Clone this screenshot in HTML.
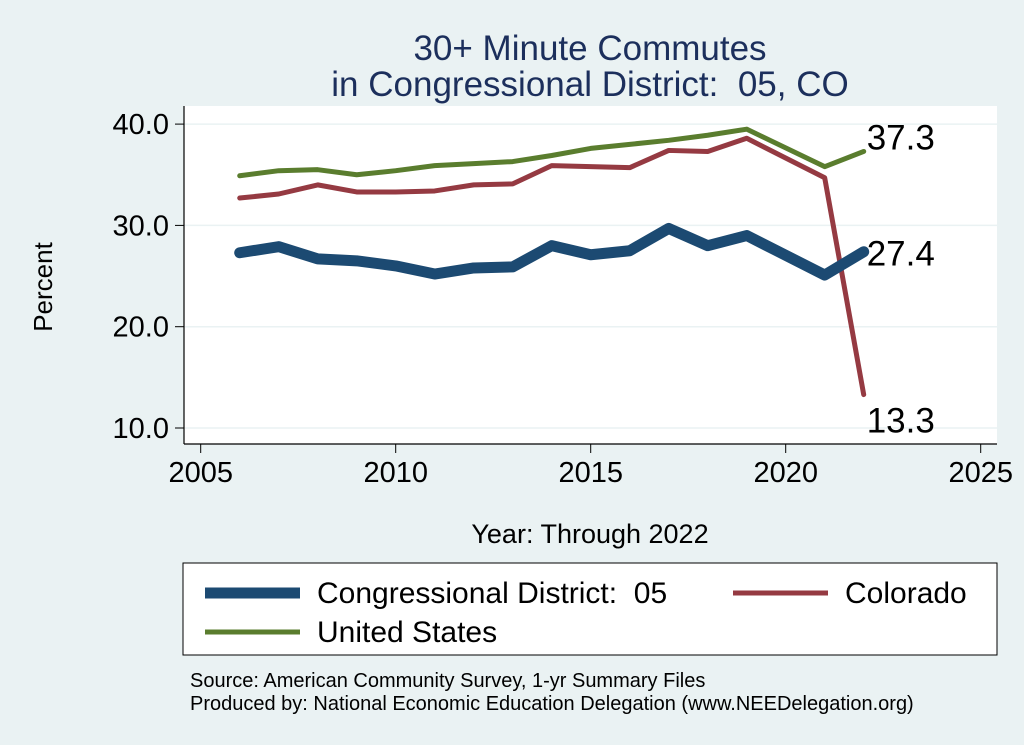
<!DOCTYPE html>
<html><head><meta charset="utf-8"><style>
body{margin:0;background:#eaf2f3;}
svg{display:block;font-family:"Liberation Sans",sans-serif;}
text{white-space:pre;}
</style></head><body>
<svg id="chart" width="1024" height="745">
<rect x="0" y="0" width="1024" height="745" fill="#eaf2f3"/>
<text x="590" y="60" font-size="35" fill="#1c2f5c" text-anchor="middle">30+ Minute Commutes</text>
<text x="590" y="96" font-size="35" fill="#1c2f5c" text-anchor="middle">in Congressional District:  05, CO</text>
<rect x="184" y="106" width="813" height="338" fill="#fff"/>
<g id="grid"></g><g id="axes"></g><g id="series"></g>
<text transform="translate(52,287) rotate(-90)" font-size="26" text-anchor="middle">Percent</text>
<text x="590" y="543" font-size="27" text-anchor="middle">Year: Through 2022</text>
<g>
<rect x="183" y="563" width="814" height="92" fill="#fff" stroke="#000" stroke-width="1"/>
<line x1="205" y1="593" x2="300" y2="593" stroke="#1c4a72" stroke-width="11"/>
<text x="317" y="603" font-size="30">Congressional District:  05</text>
<line x1="733" y1="593" x2="828" y2="593" stroke="#953a42" stroke-width="5"/>
<text x="845" y="603" font-size="30">Colorado</text>
<line x1="205" y1="632" x2="300" y2="632" stroke="#5a7d2e" stroke-width="5"/>
<text x="317" y="642" font-size="30">United States</text>
</g>
<text x="190" y="687" font-size="20">Source: American Community Survey, 1-yr Summary Files</text>
<text x="190" y="710" font-size="20">Produced by: National Economic Education Delegation (www.NEEDelegation.org)</text>
</svg>
<script>
const years=[2006,2007,2008,2009,2010,2011,2012,2013,2014,2015,2016,2017,2018,2019,2021,2022];
const districtVals=[27.3,27.9,26.7,26.5,26.0,25.2,25.8,25.9,28.0,27.1,27.5,29.7,28.0,29.0,25.1,27.4];
const coloradoVals=[32.7,33.1,34.0,33.3,33.3,33.4,34.0,34.1,35.9,35.8,35.7,37.4,37.3,38.6,34.7,13.3];
const usVals=[34.9,35.4,35.5,35.0,35.4,35.9,36.1,36.3,36.9,37.6,38.0,38.4,38.9,39.5,35.8,37.3];
const yTicks=[10,20,30,40];
const yTickLabels=["10.0","20.0","30.0","40.0"];
const xTicks=[2005,2010,2015,2020,2025];
const NS="http://www.w3.org/2000/svg";
const X=v=>200.7+(v-2005)*39;
const Y=v=>428-(v-10)*10.13;
function mk(tag,attrs,parent){const e=document.createElementNS(NS,tag);for(const k in attrs)e.setAttribute(k,attrs[k]);parent.appendChild(e);return e;}
const grid=document.getElementById('grid'),axes=document.getElementById('axes'),ser=document.getElementById('series');
yTicks.forEach((t,i)=>{
 const g=mk('line',{x1:184,x2:997,y1:Y(t),y2:Y(t),stroke:'#eaf2f3','stroke-width':1.5},grid);
 
 
 const tk=mk('line',{x1:175,x2:184,y1:Y(t),y2:Y(t),stroke:'#000'},axes);
 
 
 const tx=mk('text',{x:169,y:Y(t)+10,'font-size':29,'text-anchor':'end'},axes);
 tx.textContent=yTickLabels[i];
 
 
});
xTicks.forEach(t=>{
 const tk=mk('line',{x1:X(t),x2:X(t),y1:444,y2:453,stroke:'#000'},axes);
 
 
 const tx=mk('text',{x:X(t),y:482,'font-size':29,'text-anchor':'middle'},axes);
 tx.textContent=t;
 
 
});
const ya=mk('line',{x1:184,x2:184,y1:106,y2:444,stroke:'#000','stroke-width':1.2},axes);


const xa=mk('line',{x1:184,x2:997,y1:444,y2:444,stroke:'#000','stroke-width':1.2},axes);


function line(vals,color,w,name,lblDy){
 const p=mk('polyline',{points:vals.map((v,i)=>X(years[i])+','+Y(v)).join(' '),fill:'none',stroke:color,'stroke-width':w,'stroke-linejoin':'round','stroke-linecap':'round'},ser);
 
 
 const n=vals.length-1;
 const t=mk('text',{x:X(years[n])+3,y:Y(vals[n])+lblDy,'font-size':35},ser);
 t.textContent=vals[n].toFixed(1);
 
 
}
line(usVals,'#5a7d2e',5,'us-line',-2);
line(coloradoVals,'#953a42',5,'colorado-line',38);
line(districtVals,'#1c4a72',11,'district-line',14);
</script>
</body></html>
